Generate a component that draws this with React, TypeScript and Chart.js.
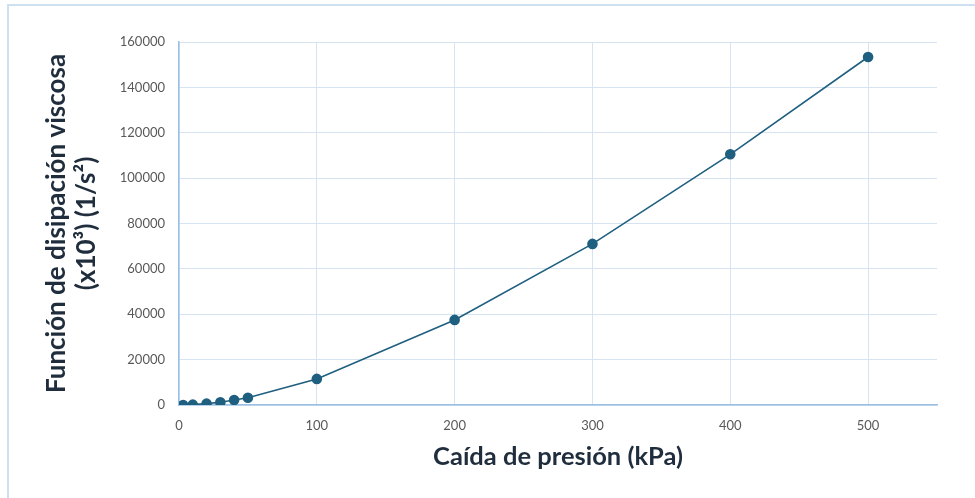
import React, { useEffect, useRef } from "react";
import { Chart, registerables } from "chart.js";

Chart.register(...registerables);

const pressureDrop = [3, 10, 20, 30, 40, 50, 100, 200, 300, 400, 500];
const dissipation = [0, 150, 600, 1200, 2200, 3200, 11500, 37500, 71000, 110500, 153400];
const xTitle = "Caída de presión (kPa)";
const yTitle = ["Función de disipación viscosa", "(x10³) (1/s²)"];

const LINE = "#1f5f80";
const GRID = "#d6e4f2";
const AXIS = "#9cc0e4";
const FONT = "Lato, 'Noto Sans', sans-serif";

export default function App() {
  const ref = useRef<HTMLCanvasElement>(null);
  useEffect(() => {
    const ctx = ref.current!.getContext("2d")!;
    const chart = new Chart(ctx, {
      type: "scatter",
      data: {
        datasets: [
          {
            data: pressureDrop.map((x, i) => ({ x, y: dissipation[i] })),
            showLine: true,
            borderColor: LINE,
            backgroundColor: LINE,
            borderWidth: 1.6,
            pointRadius: 4.5,
            pointHoverRadius: 4.5,
          },
        ],
      },
      options: {
        animation: false,
        responsive: false,
        maintainAspectRatio: false,
        layout: { padding: { top: 42, right: 38, left: 0, bottom: 22 } },
        plugins: { legend: { display: false }, tooltip: { enabled: false } },
        scales: {
          x: {
            type: "linear",
            min: 0,
            max: 550,
            ticks: {
              stepSize: 100,
              includeBounds: false,
              color: "#595959",
              font: { family: FONT, size: 13 },
              padding: 13,
              callback: (v: any) => String(v),
            },
            grid: { color: GRID, lineWidth: 1, drawTicks: false },
            border: { color: AXIS, width: 1.5 },
            title: {
              display: true,
              text: xTitle,
              color: "#1f2d3d",
              font: { family: FONT, size: 25.5, weight: "bold" },
              padding: { top: 2 },
            },
            afterFit: (s: any) => {
              s.height = 71;
            },
          },
          y: {
            type: "linear",
            min: 0,
            max: 160000,
            ticks: {
              stepSize: 20000,
              color: "#595959",
              font: { family: FONT, size: 13 },
              padding: 14,
              callback: (v: any) => String(v),
            },
            grid: { color: GRID, lineWidth: 1, drawTicks: false },
            border: { color: AXIS, width: 1.5 },
            title: {
              display: true,
              text: yTitle,
              color: "#1f2d3d",
              font: { family: FONT, size: 26, weight: "bold", lineHeight: 1.15 },
              padding: { top: 42 },
            },
            afterFit: (s: any) => {
              s.width = 179;
            },
          },
        },
      },
    });
    return () => chart.destroy();
  }, []);
  return (
    <div style={{ position: "fixed", left: 0, top: 0, width: 975, height: 498, background: "#fff", overflow: "hidden" }}>
      <div
        style={{
          position: "absolute",
          left: 7,
          top: 4,
          width: 1000,
          height: 520,
          border: "2px solid #cfe0f1",
          boxSizing: "border-box",
        }}
      />
      <canvas ref={ref} width={975} height={498} style={{ position: "absolute", left: 0, top: 0 }} />
    </div>
  );
}
